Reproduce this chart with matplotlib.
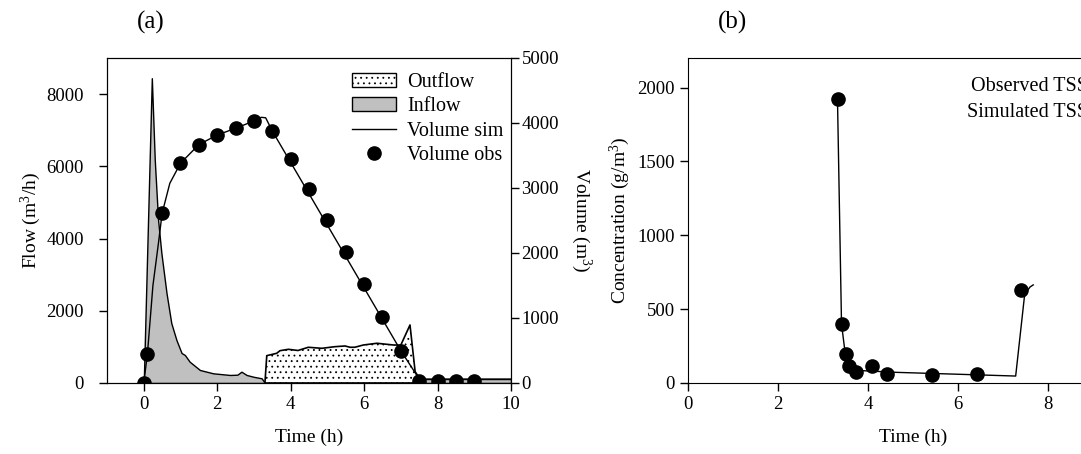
import matplotlib
matplotlib.use("Agg")
import matplotlib.pyplot as plt
from matplotlib.patches import Patch
from matplotlib.lines import Line2D

plt.rcParams["font.family"] = ["Liberation Serif", "DejaVu Serif"]
plt.rcParams["mathtext.fontset"] = "custom"
plt.rcParams["mathtext.rm"] = "Liberation Serif"
plt.rcParams["mathtext.it"] = "Liberation Serif:italic"
plt.rcParams["hatch.linewidth"] = 0.6

# (a) inflow hydrograph, m3/h
inflow_t = [0.0, 0.22, 0.3, 0.39, 0.48, 0.62, 0.75, 0.89, 1.03, 1.12, 1.25, 1.53, 1.89,
            2.35, 2.55, 2.66, 2.8, 3.0, 3.21, 3.3, 7.55, 7.6, 10.0]
inflow_q = [0, 8440, 6180, 4520, 3600, 2490, 1660, 1190, 830, 775, 590, 360, 268,
            222, 230, 313, 222, 170, 130, 0, 0, 110, 110]

# (a) outflow hydrograph, m3/h
outflow_t = [3.3, 3.35, 3.62, 3.71, 3.94, 4.2, 4.48, 4.85, 5.2, 5.48, 5.62, 5.75, 5.98,
             6.35, 6.8, 7.0, 7.25, 7.39, 7.48, 7.57]
outflow_q = [0, 757, 822, 895, 933, 900, 989, 960, 1005, 1025, 989, 990, 1052,
             1100, 1052, 1050, 1607, 313, 175, 0]

# (a) simulated storage volume, m3
vol_sim_t = [0.0, 0.1, 0.25, 0.4, 0.5, 0.71, 1.0, 1.5, 2.0, 2.5, 3.0, 3.2, 3.32, 3.5,
             7.0, 7.48, 7.6, 10.0]
vol_sim_v = [0, 446, 1500, 2150, 2611, 3072, 3380, 3667, 3815, 3918, 4031, 4087, 4080, 3877,
             497, 80, 60, 60]

# (a) observed storage volume, m3
vol_obs_t = [0.0, 0.1, 0.5, 1.0, 1.5, 2.0, 2.5, 3.0, 3.5, 4.0, 4.5, 5.0, 5.5, 6.0, 6.5,
             7.0, 7.5, 8.0, 8.5, 9.0]
vol_obs_v = [0, 446, 2610, 3380, 3667, 3815, 3918, 4031, 3877, 3446, 2979, 2508, 2021,
             1528, 1015, 497, 30, 30, 30, 30]

# (b) TSS concentration, g/m3
tss_obs_t = [3.33, 3.41, 3.5, 3.57, 3.74, 4.08, 4.41, 5.41, 6.41, 7.39]
tss_obs_c = [1925, 400, 196, 115, 72, 117, 61, 54, 63, 630]
tss_sim_t = [3.32, 3.41, 3.5, 3.6, 3.75, 3.9, 4.63, 5.81, 7.28, 7.48, 7.6, 7.67]
tss_sim_c = [1930, 400, 180, 110, 85, 83, 72, 61, 47, 600, 650, 664]

GREY = "#c0c0c0"

fig = plt.figure(figsize=(10.81, 4.54), dpi=100)
ax = fig.add_axes([0.099, 0.1564, 0.3737, 0.7159])
ax2 = ax.twinx()
bx = fig.add_axes([0.6365, 0.1564, 0.4163, 0.7159])

# panel (a)
ax.fill_between(inflow_t, 0, inflow_q, facecolor=GREY, edgecolor="black", linewidth=1.0)
ax.fill_between(outflow_t, 0, outflow_q, facecolor="white", edgecolor="black",
                hatch="...", linewidth=1.2)
ax2.plot(vol_sim_t, vol_sim_v, color="black", linewidth=1.0)
ax2.plot(vol_obs_t, vol_obs_v, "o", color="black", markersize=9.5)

ax.set_xlim(-1, 10)
ax.set_ylim(0, 9000)
ax2.set_ylim(0, 5000)
ax.set_xticks(range(0, 11, 2))
ax.set_yticks(range(0, 8001, 2000))
ax2.set_yticks(range(0, 5001, 1000))
ax.set_xlabel("Time (h)", fontsize=14, labelpad=11)
ax.set_ylabel("Flow (m$^3$/h)", fontsize=14, labelpad=2.5)
ax2.set_ylabel("Volume (m$^3$)", fontsize=14, rotation=270, labelpad=25)

handles = [
    Patch(facecolor="white", edgecolor="black", hatch="...", linewidth=1.0),
    Patch(facecolor=GREY, edgecolor="black", linewidth=1.0),
    Line2D([], [], color="black", linewidth=1.0),
    Line2D([], [], marker="o", linestyle="none", color="black", markersize=9.5),
]
ax2.legend(handles, ["Outflow", "Inflow", "Volume sim", "Volume obs"],
           loc="upper left", bbox_to_anchor=(0.606, 0.955), frameon=False,
           fontsize=14.5, handlelength=2.2, handleheight=0.7, handletextpad=0.55,
           labelspacing=0.27, borderpad=0, borderaxespad=0)

for a in (ax, ax2):
    a.tick_params(direction="out", length=6, width=1, labelsize=13.5)
ax.tick_params(axis="y", pad=10.5)
ax2.tick_params(axis="y", pad=1.5)

# panel (b)
bx.plot(tss_sim_t, tss_sim_c, color="black", linewidth=1.0)
bx.plot(tss_obs_t, tss_obs_c, "o", color="black", markersize=9.5)
bx.set_xlim(0, 10)
bx.set_ylim(0, 2200)
bx.set_xticks(range(0, 11, 2))
bx.set_yticks(range(0, 2001, 500))
bx.set_xlabel("Time (h)", fontsize=14, labelpad=11)
bx.set_ylabel("Concentration (g/m$^3$)", fontsize=14, labelpad=4)
bx.tick_params(direction="out", length=6, width=1, labelsize=13.5)
bx.legend([Line2D([], [], marker="o", linestyle="none", color="black", markersize=9.5),
           Line2D([], [], color="black", linewidth=1.0)],
          ["Observed TSS", "Simulated TSS"], markerfirst=False,
          loc="upper left", bbox_to_anchor=(0.62, 0.943), frameon=False,
          fontsize=14.5, handletextpad=0.6, labelspacing=0.35, borderpad=0, borderaxespad=0)

fig.text(0.139, 0.95, "(a)", ha="center", va="center", fontsize=18)
fig.text(0.678, 0.95, "(b)", ha="center", va="center", fontsize=18)

fig.savefig("out.png", dpi=100)
